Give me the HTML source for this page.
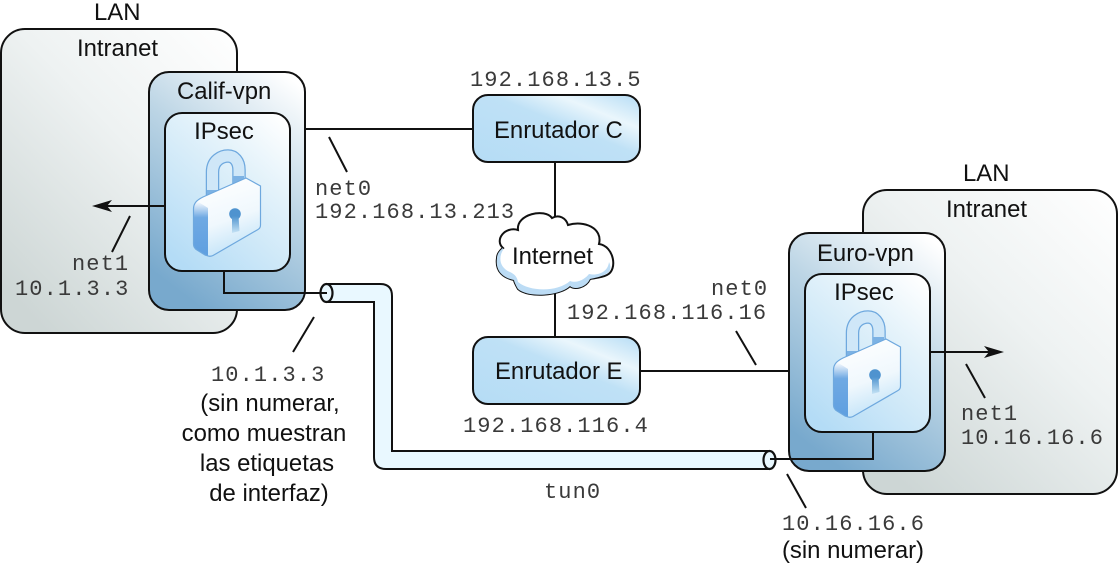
<!DOCTYPE html>
<html><head><meta charset="utf-8"><style>
html,body{margin:0;padding:0;background:#fff}
svg{display:block}
.s{font-family:"Liberation Sans",sans-serif;font-size:23.9px;fill:#111}
.m{font-family:"Liberation Mono",monospace;font-size:22px;letter-spacing:1.1px;fill:#3a3a3a}
.c{text-anchor:middle}
.l{stroke:#111;stroke-width:2;fill:none}
</style></head><body>
<svg width="1118" height="563" viewBox="0 0 1118 563" xmlns="http://www.w3.org/2000/svg">
<defs>
<linearGradient id="lan" x1="1" y1="0" x2="0.2" y2="1"><stop offset="0" stop-color="#ffffff"/><stop offset=".45" stop-color="#eef2f2"/><stop offset="1" stop-color="#cdd6d5"/></linearGradient>
<linearGradient id="vpn" x1=".85" y1="0" x2=".35" y2="1"><stop offset="0" stop-color="#ffffff"/><stop offset=".45" stop-color="#bcd5e5"/><stop offset="1" stop-color="#78a9cd"/></linearGradient>
<linearGradient id="ips" x1=".9" y1="0" x2=".2" y2="1"><stop offset="0" stop-color="#ffffff"/><stop offset=".35" stop-color="#e3f2fa"/><stop offset="1" stop-color="#b4dcf6"/></linearGradient>
<linearGradient id="rt" x1="0" y1="1" x2="1" y2="0"><stop offset="0" stop-color="#b5dcf5"/><stop offset=".55" stop-color="#bfe1f6"/><stop offset=".75" stop-color="#eaf6fc"/><stop offset="1" stop-color="#b5dcf5"/></linearGradient>
<linearGradient id="face" x1="0.3" y1="0" x2="0.6" y2="1"><stop offset="0" stop-color="#ffffff"/><stop offset=".55" stop-color="#f0f8fd"/><stop offset="1" stop-color="#bfe2f8"/></linearGradient>
<linearGradient id="side" x1="0" y1="0" x2="0" y2="1"><stop offset="0" stop-color="#ffffff"/><stop offset=".3" stop-color="#6fa9e3"/><stop offset="1" stop-color="#5f9fe0"/></linearGradient>
<linearGradient id="key" x1="0" y1="0" x2="0" y2="1"><stop offset="0" stop-color="#4f93cf"/><stop offset="1" stop-color="#c6e3f5"/></linearGradient>
<g id="lock">
<path d="M212.500 198V172C212.500 160 222 156 228 156C234 156 239 161 239 170V187" fill="none" stroke="#6ea8de" stroke-width="13.500"/>
<path d="M212.500 194V172C212.500 160 222 156 228 156C234 156 239 161 239 170V183" fill="none" stroke="#cfe7f8" stroke-width="11"/>
<path d="M207 190V200h11v-10zM233 176v11h11v-11z" fill="#7cb2e4"/>
<path d="M193.500 209C193.500 203 197 200 203 197L246 178L260.500 186V225C260.500 227 260 228.500 258 229.500L213 255.500C210 257 208 256 205 255L197 250C194.500 248.500 193.500 247 193.500 244Z" fill="url(#face)"/>
<path d="M193.500 209C193.500 206 195 203 197 201L208 208V256L205 255L197 250C194.500 248.500 193.500 247 193.500 244Z" fill="url(#side)"/>
<path d="M193.500 209C193.500 203 197 200 203 197L246 178L260.500 186V225C260.500 227 260 228.500 258 229.500L213 255.500C210 257 208 256 205 255L197 250C194.500 248.500 193.500 247 193.500 244Z" fill="none" stroke="#6ea8de" stroke-width="1.200"/>
<circle cx="235" cy="214" r="5.800" fill="#4f93cf"/>
<path d="M232 216H238.500L239.500 231L232 233Z" fill="url(#key)"/>
</g>
</defs>

<rect x="1" y="29" width="236" height="304" rx="24" fill="url(#lan)" stroke="#111" stroke-width="2"/>
<rect x="863" y="190" width="254" height="304" rx="24" fill="url(#lan)" stroke="#111" stroke-width="2"/>

<path class="l" d="M305 129H473M555 162V337M640 371H789M329 137L347 172M130 216L112 252M314 317L293 352M736 331L756 365M966 364L985 398M787 474L806 508"/>

<rect x="149" y="72" width="156" height="238" rx="20" fill="url(#vpn)" stroke="#111" stroke-width="2"/>
<rect x="789" y="233" width="156" height="238" rx="20" fill="url(#vpn)" stroke="#111" stroke-width="2"/>
<rect x="165" y="113" width="125" height="158" rx="17" fill="url(#ips)" stroke="#111" stroke-width="2"/>
<rect x="805" y="274" width="125" height="158" rx="17" fill="url(#ips)" stroke="#111" stroke-width="2"/>
<use href="#lock"/>
<use href="#lock" x="640" y="161"/>

<path d="M165 206H106" class="l"/><path d="M92 206L112 200L107 206L112 212Z" fill="#111"/>
<path d="M930 352H990" class="l"/><path d="M1004 352L984 346L989 352L984 358Z" fill="#111"/>

<rect x="473" y="95" width="167" height="67" rx="15" fill="url(#rt)" stroke="#111" stroke-width="2"/>
<rect x="473" y="337" width="167" height="67" rx="15" fill="url(#rt)" stroke="#111" stroke-width="2"/>

<path d="M503 248C494 240 505 226 518 230C516 214 545 208 552 218C559 214 566 218 568 225C584 220 603 228 599 244C614 246 618 270 607 275C601 278 594 278 590 279C586 288 574 290 570 286C560 296 528 298 518 289C514 282 514 280 514 280C504 278 495 272 497 258C497 254 500 250 503 248Z" fill="#fff" stroke="#111" stroke-width="2"/>
<path d="M503 250C498 258 500 268 510 272C514 274 517 276 518 282C530 292 558 292 570 281C578 284 586 278 589 274C598 276 608 272 609 262C612 268 610 272 606 274C601 277 594 278 590 279C586 288 574 290 570 286C560 296 528 298 518 289C514 282 514 280 514 280C504 278 495 272 497 258C497 254 500 250 503 248Z" fill="#bcdcf5"/>

<path d="M326 284H380Q392 284 392 296V451H769V469H386Q374 469 374 457V302H326Z" fill="#e9f8ff"/>
<path class="l" d="M326 284H380Q392 284 392 296V451H769M769 469H386Q374 469 374 457V302H326" stroke-width="2.200"/>
<ellipse cx="326.500" cy="293" rx="6" ry="9" fill="#e9f8ff" stroke="#111" stroke-width="2.200"/>
<ellipse cx="769.500" cy="460" rx="6" ry="9" fill="#e9f8ff" stroke="#111" stroke-width="2.200"/>
<path class="l" d="M224 271V293H327"/>
<path class="l" d="M873 431V459H770"/>

<text class="s" x="94" y="20">LAN</text>
<text class="s" x="77" y="56">Intranet</text>
<text class="s" x="177" y="99">Calif-vpn</text>
<text class="s c" x="224" y="139">IPsec</text>
<text class="s" x="494" y="138">Enrutador C</text>
<text class="s" x="512" y="264">Internet</text>
<text class="s" x="495" y="379">Enrutador E</text>
<text class="s" x="963" y="181">LAN</text>
<text class="s" x="946" y="217">Intranet</text>
<text class="s" x="817" y="261">Euro-vpn</text>
<text class="s c" x="864" y="300">IPsec</text>
<text class="s c" x="270" y="411">(sin numerar,</text>
<text class="s c" x="264" y="441">como muestran</text>
<text class="s c" x="267" y="471">las etiquetas</text>
<text class="s c" x="269" y="501">de interfaz)</text>
<text class="s c" x="853" y="558">(sin numerar)</text>

<text class="m" x="470" y="86">192.168.13.5</text>
<text class="m" x="315" y="195">net0</text>
<text class="m" x="315" y="218">192.168.13.213</text>
<text class="m" x="711" y="295">net0</text>
<text class="m" x="567" y="319">192.168.116.16</text>
<text class="m" x="463" y="432">192.168.116.4</text>
<text class="m" x="72" y="270">net1</text>
<text class="m" x="15" y="295">10.1.3.3</text>
<text class="m" x="211" y="381">10.1.3.3</text>
<text class="m" x="544" y="498">tun0</text>
<text class="m" x="782" y="530">10.16.16.6</text>
<text class="m" x="961" y="420">net1</text>
<text class="m" x="961" y="444">10.16.16.6</text>
</svg>
</body></html>
